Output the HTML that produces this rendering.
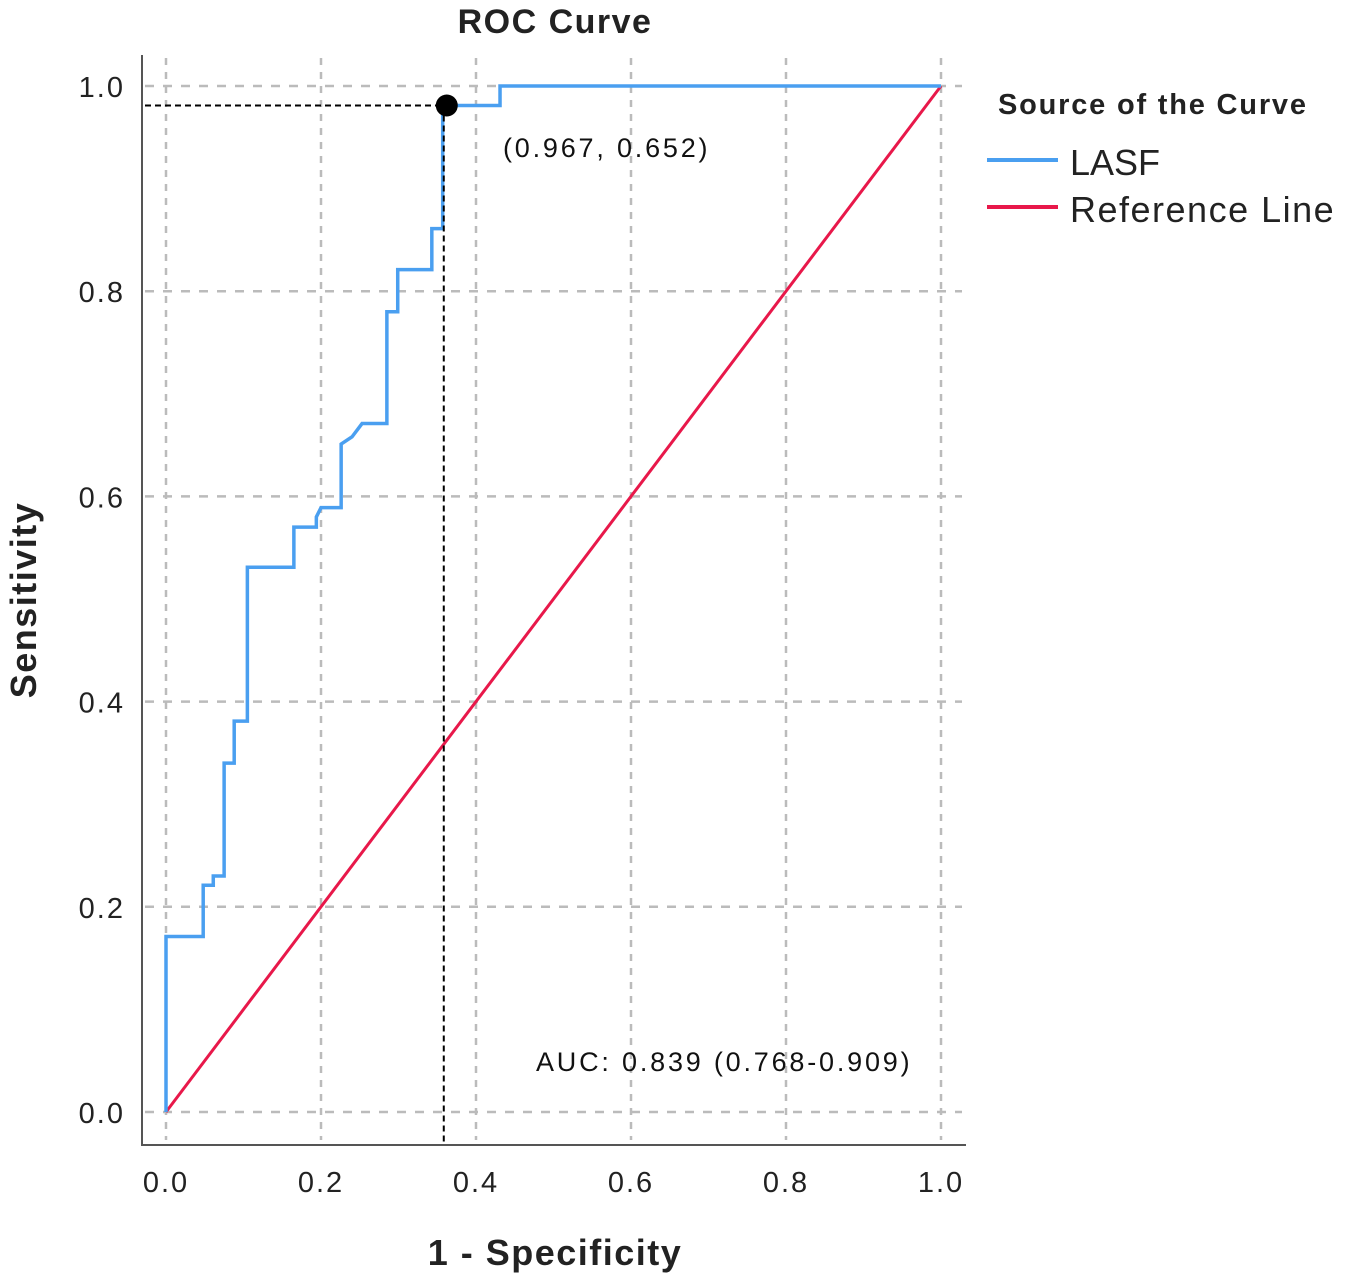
<!DOCTYPE html>
<html><head><meta charset="utf-8"><style>
body{margin:0;background:#fff;}
svg{display:block;font-family:"Liberation Sans",sans-serif;}
</style></head><body>
<svg id="chart" width="1350" height="1287">
<text x="555" y="33" text-anchor="middle" font-size="34" font-weight="bold" letter-spacing="1.5" fill="#222">ROC Curve</text>
<g id="grid"></g>
<g id="ticks"></g>
<line x1="142" y1="55" x2="142" y2="1145" stroke="#555" stroke-width="2"/>
<line x1="141" y1="1145" x2="966" y2="1145" stroke="#555" stroke-width="2"/>
<g id="marks"></g>
<text x="555" y="1265" text-anchor="middle" font-size="36" font-weight="bold" letter-spacing="1.5" fill="#222">1 - Specificity</text>
<text transform="translate(36,600) rotate(-90)" text-anchor="middle" font-size="36" font-weight="bold" letter-spacing="1.5" fill="#222">Sensitivity</text>
<text x="503" y="157" font-size="27" letter-spacing="2.8" fill="#111">(0.967, 0.652)</text>
<text x="536" y="1071" font-size="27" letter-spacing="2.8" fill="#111">AUC: 0.839 (0.768-0.909)</text>
<g>
<text x="998" y="114" font-size="29" font-weight="bold" letter-spacing="1.8" fill="#222">Source of the Curve</text>
<line x1="987" y1="160" x2="1058" y2="160" stroke="#4a9ff0" stroke-width="4"/>
<text x="1070" y="175" font-size="36" fill="#222">LASF</text>
<line x1="987" y1="207" x2="1058" y2="207" stroke="#e8184a" stroke-width="4"/>
<text x="1070" y="222" font-size="36" letter-spacing="1.5" fill="#222">Reference Line</text>
</g>
</svg>
<script>
const ticks=[0,0.2,0.4,0.6,0.8,1.0];
const tickLabels=["0.0","0.2","0.4","0.6","0.8","1.0"];
const fpr=[0,0,0.048,0.048,0.061,0.061,0.075,0.075,0.088,0.088,0.105,0.105,0.165,0.165,0.194,0.194,0.2,0.226,0.226,0.24,0.253,0.253,0.285,0.285,0.299,0.299,0.343,0.343,0.357,0.357,0.431,0.431,1];
const tpr=[0,0.171,0.171,0.221,0.221,0.230,0.230,0.340,0.340,0.381,0.381,0.531,0.531,0.570,0.570,0.580,0.589,0.589,0.651,0.658,0.671,0.671,0.671,0.780,0.780,0.821,0.821,0.861,0.861,0.981,0.981,1,1];
const refX=[0,1];
const refY=[0,1];
const cutX=0.361, cutY=0.981;
const X=v=>166+v*775, Y=v=>1112-v*1026;
const NS="http://www.w3.org/2000/svg";
function mk(tag,attrs,parent){const e=document.createElementNS(NS,tag);for(const k in attrs)e.setAttribute(k,attrs[k]);parent.appendChild(e);return e;}
const grid=document.getElementById('grid'),tk=document.getElementById('ticks'),marks=document.getElementById('marks');
ticks.forEach((t,i)=>{
 let g=mk('line',{x1:X(t),x2:X(t),y1:58,y2:1140,stroke:'#bbb','stroke-width':2.5,'stroke-dasharray':'7,7'},grid);
 
 
 g=mk('line',{x1:145,x2:962,y1:Y(t),y2:Y(t),stroke:'#bbb','stroke-width':2.5,'stroke-dasharray':'9,9'},grid);
 
 
 let tx=mk('text',{x:X(t),y:1192,'text-anchor':'middle','font-size':29,'letter-spacing':2,fill:'#222'},tk);tx.textContent=tickLabels[i];
 
 
 tx=mk('text',{x:125,y:Y(t)+11,'text-anchor':'end','font-size':29,'letter-spacing':2,fill:'#222'},tk);tx.textContent=tickLabels[i];
 
 
});
let ref=mk('polyline',{points:refX.map((v,i)=>X(v)+','+Y(refY[i])).join(' '),fill:'none',stroke:'#e8184a','stroke-width':3},marks);


let c=mk('polyline',{points:fpr.map((v,i)=>X(v)+','+Y(tpr[i])).join(' '),fill:'none',stroke:'#4a9ff0','stroke-width':3.5},marks);


let h=mk('line',{x1:145,x2:X(cutX),y1:Y(cutY),y2:Y(cutY),stroke:'#000','stroke-width':2,'stroke-dasharray':'6,4'},marks);


let v=mk('line',{x1:X(cutX)-2,x2:X(cutX)-2,y1:Y(cutY),y2:1145,stroke:'#000','stroke-width':2,'stroke-dasharray':'6,4'},marks);


let d=mk('circle',{cx:X(cutX)+1,cy:Y(cutY),r:11,fill:'#000'},marks);


</script>
</body></html>
